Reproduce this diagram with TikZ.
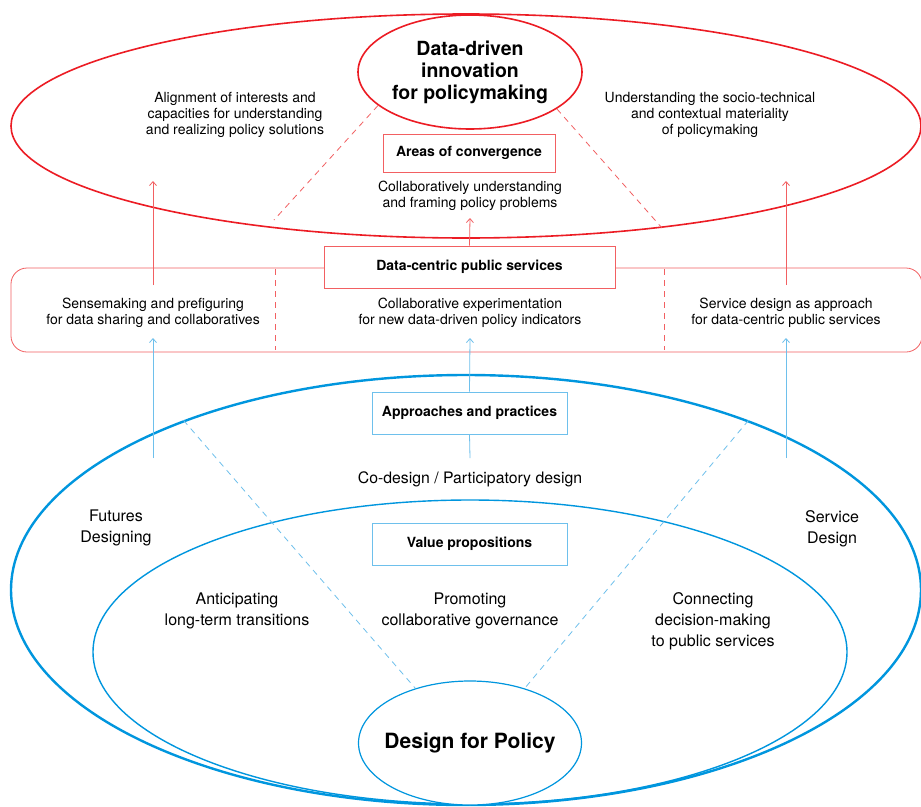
\documentclass[tikz,border=0pt]{standalone}
\usepackage{fontspec}
\setmainfont{TeX Gyre Heros}
\usetikzlibrary{positioning}
\usetikzlibrary{shapes.geometric}
\usetikzlibrary {arrows.meta}
\definecolor{polred}{RGB}{236,28,36}
\definecolor{softred}{RGB}{242,96,98}
\definecolor{polblue}{RGB}{0,150,222}
\definecolor{softblue}{RGB}{110,192,236}
\tikzset{redoval/.style={ellipse,draw=polred,line width=1.6pt,inner sep=0pt,
minimum width=910pt, minimum height=224pt}}
\tikzset{redcore/.style={ellipse,draw=polred,fill=white,line width=1.6pt,
inner xsep=-12pt,inner ysep=0pt,
minimum width=224pt, minimum height=114pt,align=center,
font=\fontsize{19.5}{22}\selectfont\bfseries}}
\tikzset{redbox/.style={rectangle,draw=softred,fill=white,line width=0.8pt,
inner sep=2pt,minimum height=38pt,font=\fontsize{14}{16}\selectfont\bfseries}}
\tikzset{bluebox/.style={rectangle,draw=softblue,fill=white,line width=0.8pt,
inner sep=2pt,minimum height=42pt,minimum width=195pt,
font=\fontsize{14}{16}\selectfont\bfseries}}
\tikzset{band/.style={rectangle,draw=softred,line width=0.8pt,rounded corners=16pt,
minimum width=911pt,minimum height=84pt}}
\tikzset{blueoval/.style={ellipse,draw=polblue,line width=2.4pt,inner sep=0pt,
minimum width=910pt, minimum height=430pt}}
\tikzset{valueoval/.style={ellipse,draw=polblue,line width=1.4pt,inner sep=0pt,
minimum width=754pt, minimum height=304pt}}
\tikzset{bluecore/.style={ellipse,draw=polblue,fill=white,line width=1.2pt,
inner xsep=-30pt,inner ysep=0pt,
minimum width=223pt, minimum height=124pt,
font=\fontsize{21}{24}\selectfont\bfseries}}
\tikzset{smalltxt/.style={align=center,inner sep=0pt,font=\fontsize{14}{16}\selectfont}}
\tikzset{bigtxt/.style={align=center,inner sep=0pt,font=\fontsize{16}{21}\selectfont}}
\tikzset{redarrow/.style={draw=softred,line width=0.8pt,-{Straight Barb[length=4pt,width=7pt]}}}
\tikzset{bluearrow/.style={draw=softblue,line width=0.8pt,-{Straight Barb[length=4pt,width=7pt]}}}
\tikzset{reddash/.style={draw=softred,line width=0.8pt,dash pattern=on 6pt off 5pt}}
\tikzset{bluedash/.style={draw=softblue,line width=0.8pt,dash pattern=on 6pt off 5pt}}

\begin{document}
\begin{tikzpicture}[x=1pt,y=-1pt]
\useasboundingbox[fill=white] (0,0) rectangle (921,806);

    % data-driven innovation
    \node[redoval] (policyoval) at (466,126) {};
    \node[redcore] (ddinnov) at (470,72) {Data-driven\\innovation\\for policymaking};
    \node[redbox, minimum width=172pt] (convergence) at (469,153) {Areas of convergence};
    \node[smalltxt] (framing) at (470,196) {Collaboratively understanding\\and framing policy problems};
    \node[smalltxt] (alignment) at (235,115) {Alignment of interests and\\capacities for understanding\\and realizing policy solutions};
    \node[smalltxt] (materiality) at (710,115) {Understanding the socio-technical\\and contextual materiality\\of policymaking};

    \coordinate (convL) at (274,220);
    \coordinate (convR) at (662,228);
    \draw[reddash] (ddinnov.200) -- (convL);
    \draw[reddash] (ddinnov.337) -- (convR);

    % data-centric public services
    \node[band] (band) at (466.5,310) {};
    \coordinate (sepLtop) at (275,269);
    \coordinate (sepLbot) at (275,350);
    \coordinate (sepRtop) at (664,269);
    \coordinate (sepRbot) at (664,350);
    \draw[reddash] (sepLtop) -- (sepLbot);
    \draw[reddash] (sepRtop) -- (sepRbot);
    \node[redbox, minimum width=291pt, minimum height=42pt] (datacentric) at (469.5,267) {Data-centric public services};
    \node[smalltxt] (sensemaking) at (153,313) {Sensemaking and prefiguring\\for data sharing and collaboratives};
    \node[smalltxt] (experiment) at (470,313) {Collaborative experimentation\\for new data-driven policy indicators};
    \node[smalltxt] (servapproach) at (786,313) {Service design as approach\\for data-centric public services};

    \coordinate (senseL) at (153,285);
    \coordinate (alignfoot) at (153,181);
    \coordinate (senseR) at (786,285);
    \coordinate (materfoot) at (786,181);
    \coordinate (framefoot) at (470,218);
    \draw[redarrow] (senseL) -- (alignfoot);
    \draw[redarrow] (senseR) -- (materfoot);
    \draw[redarrow] (datacentric.north) -- (framefoot);

    % design for policy
    \node[blueoval] (designoval) at (466,590) {};
    \node[valueoval] (valueoval) at (470,652) {};
    \node[bluecore] (design4policy) at (470,743) {Design for Policy};
    \node[bluebox] (approaches) at (469.5,413) {Approaches and practices};
    \node[bluebox] (valueprop) at (469.5,544) {Value propositions};
    \node[smalltxt, font=\fontsize{15.8}{18}\selectfont] (codesign) at (470,479) {Co-design / Participatory design};
    \node[bigtxt] (futures) at (116,528) {Futures\\Designing};
    \node[bigtxt] (servdesign) at (832,529) {Service\\Design};
    \node[bigtxt] (anticipating) at (237,611) {Anticipating\\long-term transitions};
    \node[bigtxt] (promoting) at (470,611) {Promoting\\collaborative governance};
    \node[bigtxt] (connecting) at (713,621) {Connecting\\decision-making\\to public services};

    \draw[bluedash] (designoval.149) -- (design4policy.135);
    \draw[bluedash] (designoval.31) -- (design4policy.45);

    \coordinate (futuretop) at (153,458);
    \coordinate (sensefoot) at (153,338);
    \coordinate (servtop) at (786,458);
    \coordinate (approachfoot) at (786,338);
    \coordinate (codesigntop) at (470,458);
    \coordinate (experimentfoot) at (470,338);
    \draw[bluearrow] (futuretop) -- (sensefoot);
    \draw[bluearrow] (servtop) -- (approachfoot);
    \draw[bluearrow] (approaches.north) -- (experimentfoot);
    \draw[draw=softblue,line width=0.8pt] (codesigntop) -- (approaches.south);

\end{tikzpicture}
\end{document}
